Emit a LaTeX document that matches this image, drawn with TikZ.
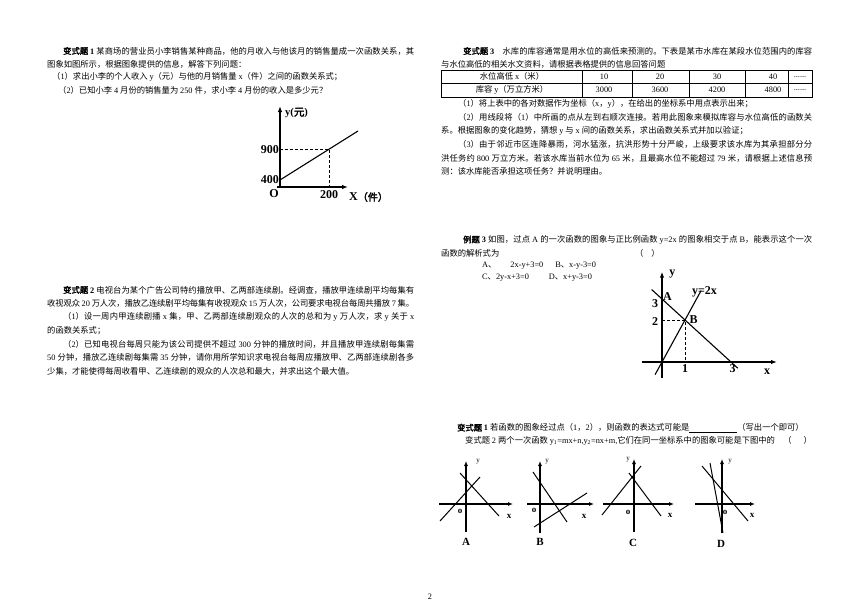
\documentclass[tikz,border=0pt]{standalone}
\usepackage{fontspec}
\setmainfont{Liberation Serif}
\newfontfamily\zhfont{Noto Sans CJK SC}[AutoFakeBold=2.5]
\usepackage{tikz}
\usetikzlibrary{arrows.meta, positioning, calc}
% CJK runs are set in their own font
\XeTeXinterchartokenstate=1
\chardef\zhclass=8
\newcount\zhcode
\def\setzh#1#2{\zhcode=#1\relax
  \loop\XeTeXcharclass\zhcode=\zhclass
  \ifnum\zhcode<#2\advance\zhcode by 1\repeat}
\setzh{"3000}{"303F}
\setzh{"4E00}{"9FFF}
\setzh{"FF00}{"FFEF}
\XeTeXinterchartoks 0 \zhclass = {\zhfont}
\XeTeXinterchartoks 4095 \zhclass = {\zhfont}
\XeTeXinterchartoks \zhclass 0 = {\rmfamily}
\XeTeXinterchartoks 4095 0 = {\rmfamily}
\XeTeXinterchartoks \zhclass \zhclass = {\hskip 0pt plus .8pt minus .3pt}
\newcommand{\fullline}[2]{\hbox to #1{#2}}

\begin{document}
\begin{tikzpicture}
  [
    x=1pt, y=-1pt,
    Text/.style={anchor=west, inner sep=0pt, font=\fontsize{8.3}{10}\selectfont},
    Mid/.style={inner sep=0pt, font=\fontsize{8.3}{10}\selectfont},
    Label/.style={inner sep=0pt, font=\fontsize{12}{14}\selectfont\bfseries},
    Tiny/.style={inner sep=0pt, font=\fontsize{9}{10}\selectfont\bfseries},
    Axis/.style={line width=1.6pt, -{Latex[length=6pt, width=4.5pt]}},
    Small/.style={line width=1.4pt, -{Latex[length=5pt, width=4pt]}},
    Curve/.style={line width=1.1pt},
    Thin/.style={line width=1pt},
    Guide/.style={line width=0.8pt, dash pattern=on 3pt off 2pt},
    Grid/.style={line width=0.5pt}
  ]
  \useasboundingbox (0,0) rectangle (860,611);
  % Exercise 1
  \node[Text] (e1a) at (63,51) {\fullline{351pt}{\textbf{变式题 1} 某商场的营业员小李销售某种商品，他的月收入与他该月的销售量成一次函数关系，其}};
  \node[Text] (e1b) at (47,64) {图象如图所示，根据图象提供的信息，解答下列问题：};
  \node[Text] (e1c) at (52,77) {（1）求出小李的个人收入 y（元）与他的月销售量 x（件）之间的函数关系式；};
  \node[Text] (e1d) at (58,90) {（2）已知小李 4 月份的销售量为 250 件，求小李 4 月份的收入是多少元？};
  % Income graph
  \coordinate (o1) at (280,187);
  \coordinate (y1) at (280,106);
  \coordinate (x0) at (277,187);
  \coordinate (x1) at (348,187);
  \coordinate (p0) at (280,180);
  \coordinate (p1) at (329,149);
  \coordinate (p2) at (358,131);
  \draw[Axis] (o1) -- (y1);
  \draw[Axis] (x0) -- (x1);
  \draw[Curve] (p0) -- (p2);
  \draw[Guide] (o1 |- p1) -- (p1) -- (p1 |- o1);
  \node[Label, anchor=west, font=\fontsize{10.5}{12}\selectfont\bfseries] (ly1) at (285,113) {y(元)};
  \node[Label, anchor=east] (l900) at (279,150) {900};
  \node[Label, anchor=east] (l400) at (279,180) {400};
  \node[Label] (lo1) at (274,194) {O};
  \node[Label] (l200) at (329,195) {200};
  \node[Label, anchor=west] (lx1) at (349,197) {X{\fontsize{10}{12}\selectfont（件）}};
  % Exercise 2
  \node[Text] (e2a) at (63,290) {\fullline{351pt}{\textbf{变式题 2} 电视台为某个广告公司特约播放甲、乙两部连续剧。经调查，播放甲连续剧平均每集有}};
  \node[Text] (e2b) at (47,303.5) {\fullline{367pt}{收视观众 20 万人次，播放乙连续剧平均每集有收视观众 15 万人次，公司要求电视台每周共播放 7 集。}};
  \node[Text] (e2c) at (63,317) {\fullline{351pt}{（1）设一周内甲连续剧播 x 集，甲、乙两部连续剧观众的人次的总和为 y 万人次，求 y 关于 x}};
  \node[Text] (e2d) at (47,330.5) {的函数关系式；};
  \node[Text] (e2e) at (63,344) {\fullline{351pt}{（2）已知电视台每周只能为该公司提供不超过 300 分钟的播放时间，并且播放甲连续剧每集需}};
  \node[Text] (e2f) at (47,357.5) {\fullline{367pt}{50 分钟，播放乙连续剧每集需 35 分钟，请你用所学知识求电视台每周应播放甲、乙两部连续剧各多}};
  \node[Text] (e2g) at (47,371) {少集，才能使得每周收看甲、乙连续剧的观众的人次总和最大，并求出这个最大值。};
  % Exercise 3
  \node[Text] (e3a) at (463,51) {\fullline{349pt}{\textbf{变式题 3}\quad 水库的库容通常是用水位的高低来预测的。下表是某市水库在某段水位范围内的库容}};
  \node[Text] (e3b) at (441,64) {与水位高低的相关水文资料，请根据表格提供的信息回答问题};
  \draw[Grid] (441,70) rectangle (812,97);
  \draw[Grid] (441,83.5) -- (812,83.5);
  \foreach \c in {582,632,689,745,788} \draw[Grid] (\c,70) -- (\c,97);
  \node[Mid] (h1) at (512,76.75) {水位高低 x（米）};
  \node[Mid] (h2) at (512,90.25) {库容 y（万立方米）};
  \foreach \v/\x in {10/604,20/660,30/717,40/773} \node[Mid] (a\v) at (\x,76.75) {\v};
  \foreach \v/\x in {3000/604,3600/660,4200/717,4800/773} \node[Mid] (b\v) at (\x,90.25) {\v};
  \node[Mid] (a0) at (800,76.75) {......};
  \node[Mid] (b0) at (800,90.25) {......};
  \node[Text] (e3c) at (458,104) {（1）将上表中的各对数据作为坐标（x，y），在给出的坐标系中用点表示出来；};
  \node[Text] (e3d) at (458,117.5) {\fullline{354pt}{（2）用线段将（1）中所画的点从左到右顺次连接。若用此图象来模拟库容与水位高低的函数关}};
  \node[Text] (e3e) at (441,131) {系。根据图象的变化趋势，猜想 y 与 x 间的函数关系，求出函数关系式并加以验证；};
  \node[Text] (e3f) at (458,144.5) {\fullline{354pt}{（3）由于邻近市区连降暴雨，河水猛涨，抗洪形势十分严峻，上级要求该水库为其承担部分分}};
  \node[Text] (e3g) at (441,158) {\fullline{371pt}{洪任务约 800 万立方米。若该水库当前水位为 65 米，且最高水位不能超过 79 米，请根据上述信息预}};
  \node[Text] (e3h) at (441,171.5) {测：该水库能否承担这项任务？并说明理由。};
  % Example 3
  \node[Text] (x3a) at (463,240) {\fullline{349pt}{\textbf{例题 3} 如图，过点 A 的一次函数的图象与正比例函数 y=2x 的图象相交于点 B，能表示这个一次}};
  \node[Text] (x3b) at (441,253) {函数的解析式为};
  \node[Text] (x3c) at (635,253) {（\hspace{8pt}）};
  \node[Text] (x3d) at (482,265.5) {A、\hspace{14pt}2x-y+3=0\hspace{12pt}B、x-y-3=0};
  \node[Text] (x3e) at (482,278) {C、2y-x+3=0\hspace{20pt}D、x+y-3=0};
  % Graph for example 3
  \begin{scope}[shift={(662,362)}, x=23pt, y=21pt]
    \coordinate (O) at (0,0);
    \coordinate (A) at (0,3);
    \coordinate (B) at (1,2);
    \draw[Axis] (0,-0.76) -- (0,4.3);
    \draw[Axis] (-0.87,0) -- (5,0);
    \draw[Curve] (-0.3,-0.6) -- (1.7,3.4);
    \draw[Curve] (-0.45,3.45) -- (3.3,-0.3);
    \draw[Guide] (A |- B) -- (B) -- (B |- O);
    \node[Label] (gy) at (0.45,4.2) {y};
    \node[Label] (gx) at (4.57,-0.48) {x};
    \node[Label] (g3y) at (-0.3,2.76) {3};
    \node[Label] (gA) at (0.24,3.12) {A};
    \node[Label] (g2) at (-0.3,1.95) {2};
    \node[Label] (gB) at (1.37,2.0) {B};
    \node[Label] (g1) at (1,-0.29) {1};
    \node[Label] (g3x) at (3.07,-0.29) {3};
    \node[Label, anchor=west] (gline) at (1.3,3.33) {y=2x};
  \end{scope}
  % Exercises 1 and 2 of the last part
  \node[Text] (f1) at (457,428) {\textbf{变式题 1} 若函数的图象经过点（1，2），则函数的表达式可能是\rule[-1.5pt]{48pt}{0.5pt}（写出一个即可）};
  \node[Text] (f2) at (465,441) {变式题 2 两个一次函数 y\textsubscript{1}=mx+n,y\textsubscript{2}=nx+m,它们在同一坐标系中的图象可能是下图中的\quad（\hspace{12pt}）};
  % Graph A
  \draw[Small] (466,532) -- (466,461);
  \draw[Small] (439,504) -- (513,504);
  \draw[Thin] (440,521) -- (480,477);
  \draw[Thin] (460,473) -- (499,516);
  \node[Text, anchor=center, font=\fontsize{7}{8}\selectfont] (ay) at (478,462) {y};
  \node[Tiny] (ao) at (460,511) {o};
  \node[Tiny] (ax) at (509,516) {x};
  \node[Label, font=\fontsize{11}{12}\selectfont\bfseries] (an) at (466,542) {A};
  % Graph B
  \draw[Small] (540,533) -- (540,461);
  \draw[Small] (527,504) -- (594,504);
  \draw[Thin] (533,472) -- (567,522);
  \draw[Thin] (534,527) -- (587,493);
  \node[Text, anchor=center, font=\fontsize{7}{8}\selectfont] (by) at (547,462) {y};
  \node[Tiny] (bo) at (534,510) {o};
  \node[Tiny] (bx) at (584,516) {x};
  \node[Label, font=\fontsize{11}{12}\selectfont\bfseries] (bn) at (540,542) {B};
  % Graph C
  \draw[Small] (634,532) -- (634,459);
  \draw[Small] (603,504) -- (674,504);
  \draw[Thin] (602,515) -- (641,466);
  \draw[Thin] (629,473) -- (661,516);
  \node[Text, anchor=center, font=\fontsize{7}{8}\selectfont] (cy) at (628,460) {y};
  \node[Tiny] (co) at (628,512) {o};
  \node[Tiny] (cx) at (670,515) {x};
  \node[Label, font=\fontsize{11}{12}\selectfont\bfseries] (cn) at (633,543) {C};
  % Graph D
  \draw[Small] (722,533) -- (722,459);
  \draw[Small] (695,504) -- (755,504);
  \draw[Thin] (702,466) -- (748,521);
  \draw[Thin] (710,463) -- (723,533);
  \node[Text, anchor=center, font=\fontsize{7}{8}\selectfont] (dy) at (730,462) {y};
  \node[Tiny] (do) at (725,512) {o};
  \node[Tiny] (dx) at (752,515) {x};
  \node[Label, font=\fontsize{11}{12}\selectfont\bfseries] (dn) at (721,544) {D};
  % Page number
  \node[Mid] (page) at (430,597) {2};
\end{tikzpicture}
\end{document}
